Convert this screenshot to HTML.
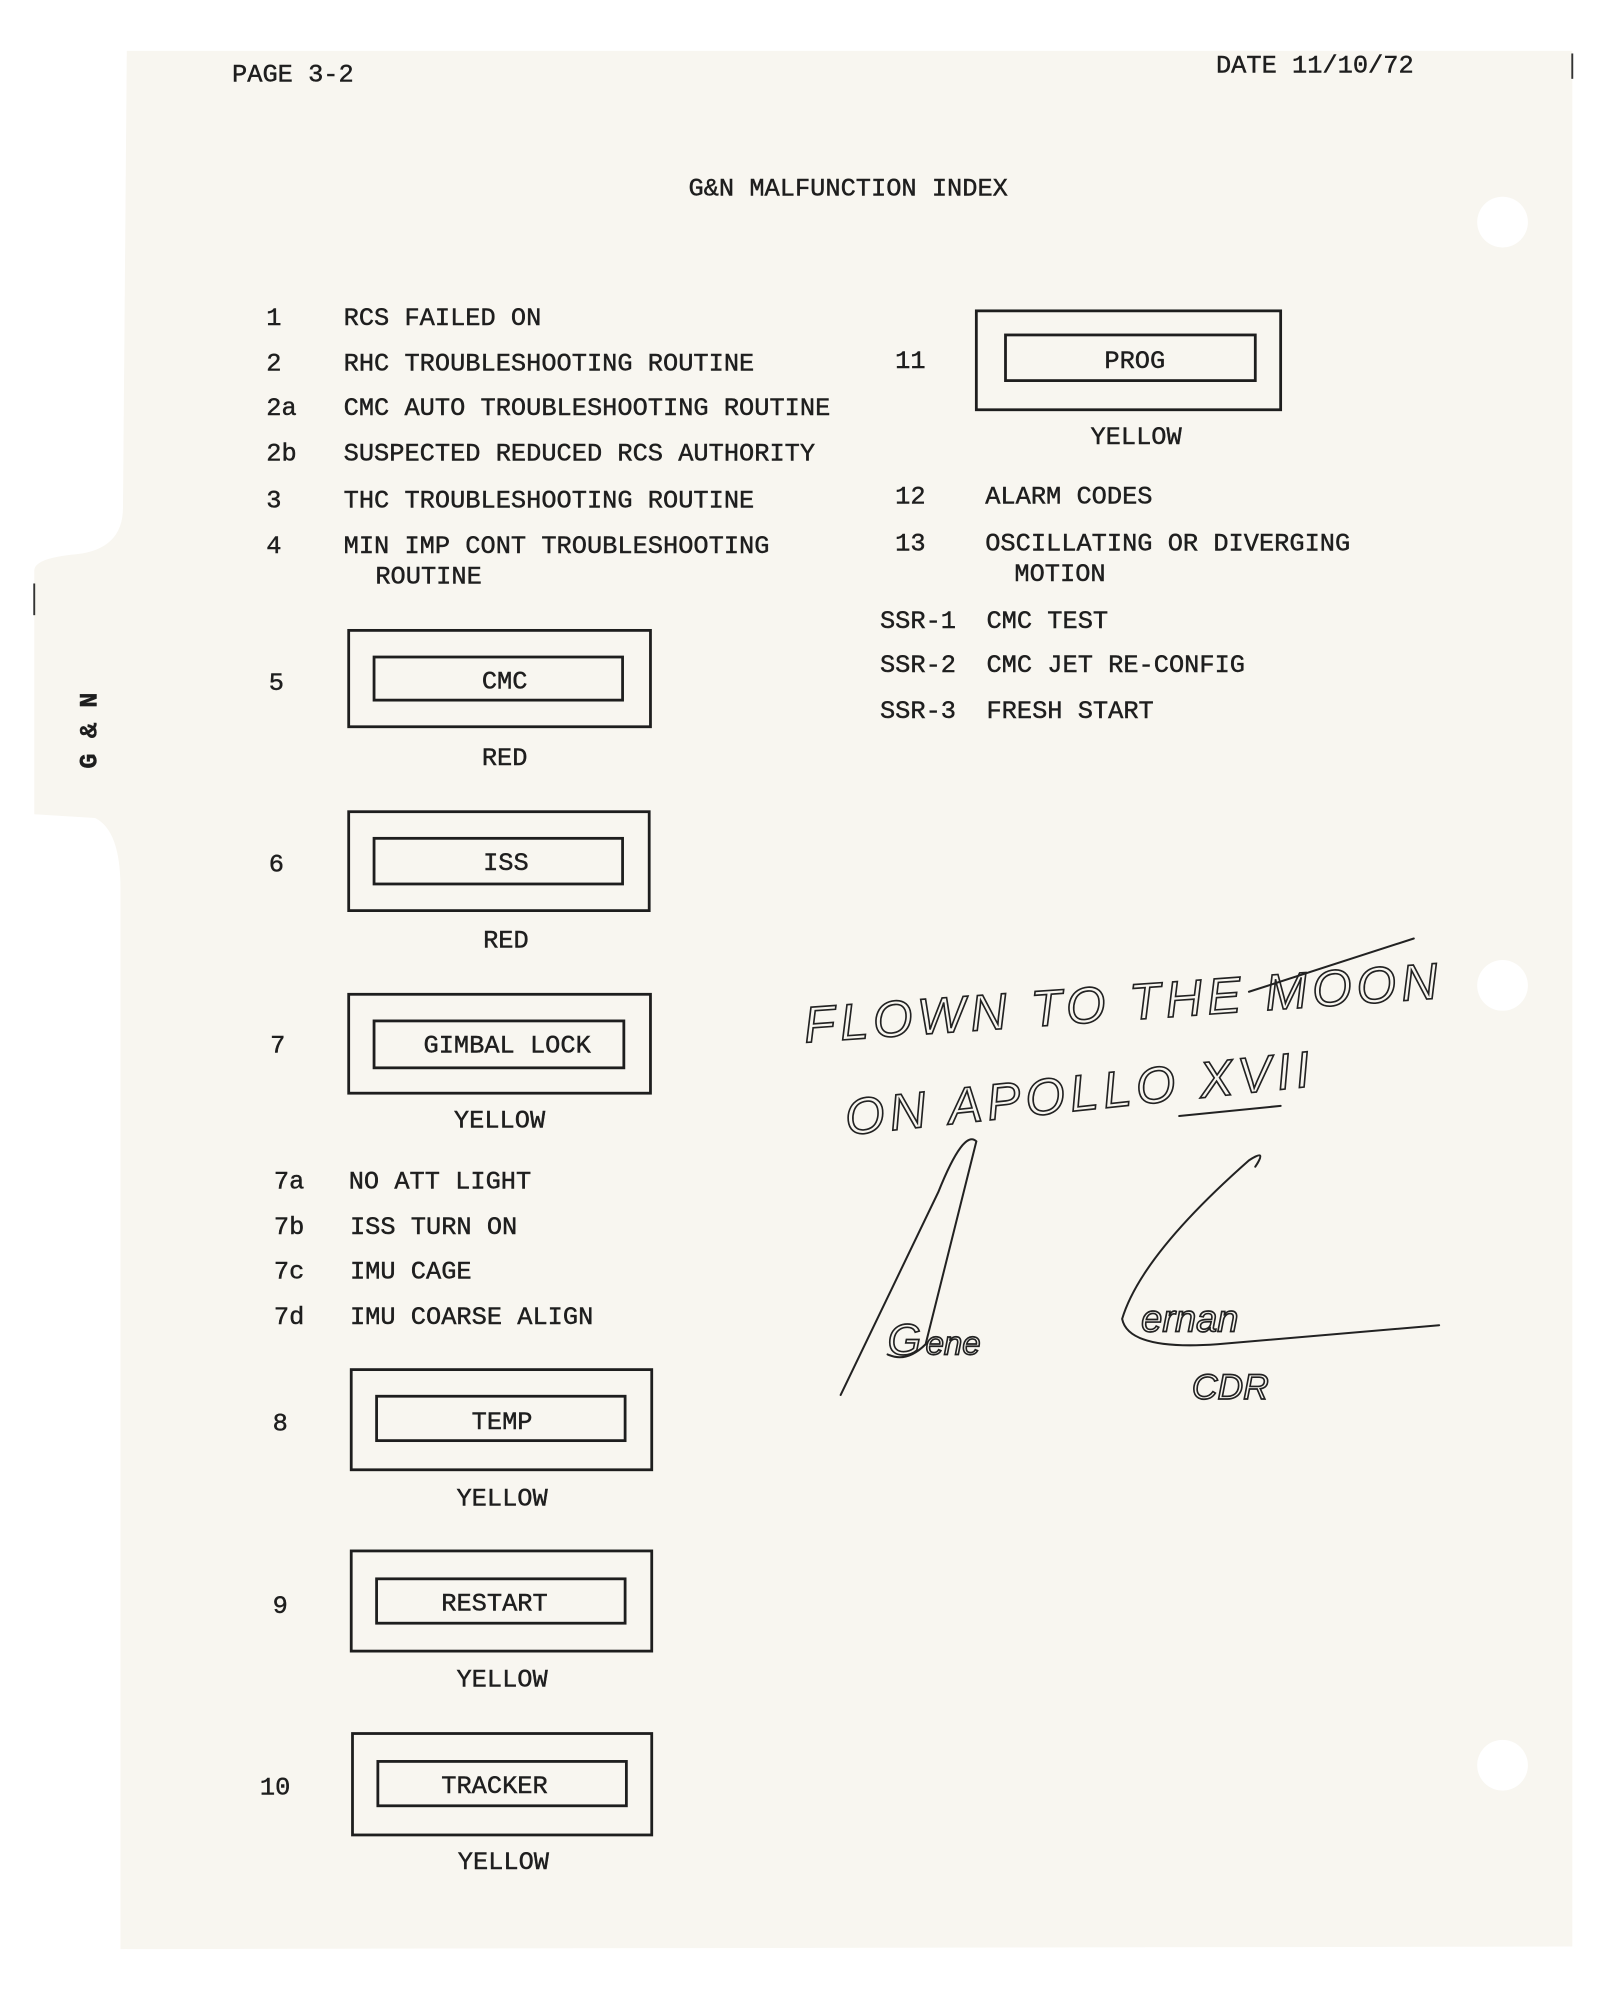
<!DOCTYPE html>
<html><head><meta charset="utf-8"><style>
html,body{margin:0;padding:0;background:#fff;}
svg{display:block;}
.t{font-family:"Liberation Mono",monospace;font-size:20px;fill:#1e1e1e;stroke:#1e1e1e;stroke-width:0.35;}
.b{fill:none;stroke:#1e1e1e;stroke-width:2.2;}
.h{font-family:"Liberation Sans",sans-serif;font-style:italic;fill:none;stroke:#222;stroke-width:1.3;}
.p{fill:none;stroke:#222;stroke-width:1.6;stroke-linecap:round;}
</style></head><body>
<svg width="1623" height="2000" viewBox="0 0 1280 1577" xmlns="http://www.w3.org/2000/svg">
<rect width="1280" height="1577" fill="#fff"/>
<path d="M100 40 L1240 40 L1240 1535 L95 1537 L95 700 Q95 655 75 645 L27 642 L27 450 Q27 440 60 437 Q97 433 97 400 Z" fill="#f8f6f0"/>
<circle cx="1185" cy="175" r="20" fill="#fff"/>
<circle cx="1185" cy="777" r="20" fill="#fff"/>
<circle cx="1185" cy="1392" r="20" fill="#fff"/>
<line x1="1240" y1="42" x2="1240" y2="62" stroke="#333" stroke-width="1.5"/>
<line x1="27" y1="460" x2="27" y2="485" stroke="#333" stroke-width="1.5"/>
<text class="t" transform="translate(76 606) rotate(-90)" font-size="24" font-weight="bold">G &amp; N</text>

<g class="t">
<text x="183" y="64">PAGE 3-2</text>
<text x="959" y="57">DATE 11/10/72</text>
<text x="543" y="154">G&amp;N MALFUNCTION INDEX</text>

<text x="210" y="256">1</text><text x="271" y="256">RCS FAILED ON</text>
<text x="210" y="292">2</text><text x="271" y="292">RHC TROUBLESHOOTING ROUTINE</text>
<text x="210" y="327">2a</text><text x="271" y="327">CMC AUTO TROUBLESHOOTING ROUTINE</text>
<text x="210" y="363">2b</text><text x="271" y="363">SUSPECTED REDUCED RCS AUTHORITY</text>
<text x="210" y="400">3</text><text x="271" y="400">THC TROUBLESHOOTING ROUTINE</text>
<text x="210" y="436">4</text><text x="271" y="436">MIN IMP CONT TROUBLESHOOTING</text>
<text x="296" y="460">ROUTINE</text>

<text x="706" y="290">11</text>
<text x="871" y="290">PROG</text>
<text x="860" y="350">YELLOW</text>
<text x="706" y="397">12</text><text x="777" y="397">ALARM CODES</text>
<text x="706" y="434">13</text><text x="777" y="434">OSCILLATING OR DIVERGING</text>
<text x="800" y="458">MOTION</text>
<text x="694" y="495">SSR-1</text><text x="778" y="495">CMC TEST</text>
<text x="694" y="530">SSR-2</text><text x="778" y="530">CMC JET RE-CONFIG</text>
<text x="694" y="566">SSR-3</text><text x="778" y="566">FRESH START</text>

<text x="212" y="544">5</text><text x="380" y="543">CMC</text><text x="380" y="603">RED</text>
<text x="212" y="687">6</text><text x="381" y="686">ISS</text><text x="381" y="747">RED</text>
<text x="213" y="830">7</text><text x="334" y="830">GIMBAL LOCK</text><text x="358" y="889">YELLOW</text>
<text x="216" y="937">7a</text><text x="275" y="937">NO ATT LIGHT</text>
<text x="216" y="973">7b</text><text x="276" y="973">ISS TURN ON</text>
<text x="216" y="1008">7c</text><text x="276" y="1008">IMU CAGE</text>
<text x="216" y="1044">7d</text><text x="276" y="1044">IMU COARSE ALIGN</text>
<text x="215" y="1128">8</text><text x="372" y="1127">TEMP</text><text x="360" y="1187">YELLOW</text>
<text x="215" y="1272">9</text><text x="348" y="1270">RESTART</text><text x="360" y="1330">YELLOW</text>
<text x="205" y="1415">10</text><text x="348" y="1414">TRACKER</text><text x="361" y="1474">YELLOW</text>
</g>

<g class="b">
<rect x="770" y="245" width="240" height="78"/><rect x="793" y="264" width="197" height="36"/>
<rect x="275" y="497" width="238" height="76"/><rect x="295" y="518" width="196" height="34"/>
<rect x="275" y="640" width="237" height="78"/><rect x="295" y="661" width="196" height="36"/>
<rect x="275" y="784" width="238" height="78"/><rect x="295" y="805" width="197" height="37"/>
<rect x="277" y="1080" width="237" height="79"/><rect x="297" y="1101" width="196" height="35"/>
<rect x="277" y="1223" width="237" height="79"/><rect x="297" y="1245" width="196" height="35"/>
<rect x="278" y="1367" width="236" height="80"/><rect x="298" y="1389" width="196" height="35"/>
</g>

<text class="h" x="635" y="822" font-size="40" letter-spacing="4" transform="rotate(-4 635 822)">FLOWN TO THE MOON</text>
<text class="h" x="668" y="895" font-size="40" letter-spacing="4" transform="rotate(-6 668 895)">ON APOLLO XVII</text>
<path class="p" d="M985 782 L1115 740"/>
<path class="p" d="M930 880 L1010 872"/>
<text class="h" x="700" y="1068" font-size="34">G</text>
<text class="h" x="730" y="1068" font-size="26">ene</text>
<text class="h" x="900" y="1050" font-size="30">ernan</text>
<path class="p" d="M663 1100 L740 940 Q760 890 770 900 Q760 940 730 1060 Q715 1075 700 1068"/>
<path class="p" d="M990 920 Q1000 905 985 915 Q900 990 885 1040 Q890 1065 960 1060 L1135 1045"/>
<text class="h" x="940" y="1103" font-size="28">CDR</text>
</svg>
</body></html>
